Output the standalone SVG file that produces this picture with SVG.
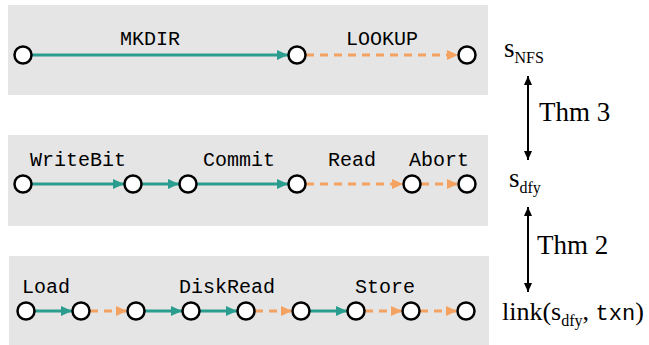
<svg xmlns="http://www.w3.org/2000/svg" width="649" height="345" viewBox="0 0 649 345">
<style>
.panel{fill:#e5e5e5}
.node{fill:#fff;stroke:#000;stroke-width:2.5}
.t{stroke:#2a9d8f;stroke-width:3;fill:none}
.o{stroke:#f4a261;stroke-width:3;fill:none;stroke-dasharray:8 6}
.lbl{font-family:"Liberation Mono","DejaVu Sans Mono",monospace;font-size:20px;fill:#000;text-anchor:middle}
.ser{font-family:"Liberation Serif","Times New Roman",serif;fill:#000}
.mono{font-family:"Liberation Mono","DejaVu Sans Mono",monospace}
.bk{stroke:#000;stroke-width:2;fill:none}
</style>
<defs>
<marker id="at" markerUnits="userSpaceOnUse" markerWidth="12" markerHeight="10" refX="11" refY="5" orient="auto"><path d="M0,0 L11,5 L0,10 Z" fill="#2a9d8f"/></marker>
<marker id="ao" markerUnits="userSpaceOnUse" markerWidth="12" markerHeight="10" refX="11" refY="5" orient="auto"><path d="M0,0 L11,5 L0,10 Z" fill="#f4a261"/></marker>
<marker id="ab" markerUnits="userSpaceOnUse" markerWidth="10" markerHeight="12" refX="9" refY="4" orient="auto-start-reverse"><path d="M0,0 L9,4 L0,8 Z" fill="#000"/></marker>
</defs>

<g id="panel-nfs">
<rect class="panel" x="8" y="5" width="480" height="90"/>
<text class="lbl" x="150" y="45">MKDIR</text>
<text class="lbl" x="382" y="45">LOOKUP</text>
</g>
<g id="panel-dfy">
<rect class="panel" x="8" y="135" width="480" height="91"/>
<text class="lbl" x="78" y="166">WriteBit</text>
<text class="lbl" x="239" y="166">Commit</text>
<text class="lbl" x="352" y="166">Read</text>
<text class="lbl" x="439" y="166">Abort</text>
</g>
<g id="panel-link">
<rect class="panel" x="9" y="256" width="480" height="89"/>
<text class="lbl" x="46" y="293">Load</text>
<text class="lbl" x="227" y="293">DiskRead</text>
<text class="lbl" x="385" y="293">Store</text>
</g>

<g id="connectors">
<line class="t" x1="32" y1="55" x2="288" y2="55" marker-end="url(#at)"/>
<line class="o" x1="306" y1="55" x2="458" y2="55" marker-end="url(#ao)"/>

<line class="t" x1="32" y1="184" x2="124" y2="184" marker-end="url(#at)"/>
<line class="t" x1="142" y1="184" x2="179" y2="184" marker-end="url(#at)"/>
<line class="t" x1="197" y1="184" x2="288" y2="184" marker-end="url(#at)"/>
<line class="o" x1="306" y1="184" x2="403" y2="184" marker-end="url(#ao)"/>
<line class="o" x1="421" y1="184" x2="458" y2="184" marker-end="url(#ao)"/>

<line class="t" x1="35" y1="311" x2="72" y2="311" marker-end="url(#at)"/>
<line class="o" x1="90" y1="311" x2="127" y2="311" marker-end="url(#ao)"/>
<line class="t" x1="145" y1="311" x2="182" y2="311" marker-end="url(#at)"/>
<line class="t" x1="200" y1="311" x2="237" y2="311" marker-end="url(#at)"/>
<line class="o" x1="255" y1="311" x2="292" y2="311" marker-end="url(#ao)"/>
<line class="t" x1="310" y1="311" x2="347" y2="311" marker-end="url(#at)"/>
<line class="o" x1="365" y1="311" x2="402" y2="311" marker-end="url(#ao)"/>
<line class="o" x1="420" y1="311" x2="457" y2="311" marker-end="url(#ao)"/>

<line class="bk" x1="528" y1="76" x2="528" y2="160" marker-start="url(#ab)" marker-end="url(#ab)"/>
<line class="bk" x1="528" y1="207" x2="528" y2="292" marker-start="url(#ab)" marker-end="url(#ab)"/>
</g>

<g id="n1a"><circle class="node" cx="23" cy="55" r="8.5"/></g>
<g id="n1b"><circle class="node" cx="297" cy="55" r="8.5"/></g>
<g id="n1c"><circle class="node" cx="467" cy="55" r="8.5"/></g>

<g id="n2a"><circle class="node" cx="23" cy="184" r="8.5"/></g>
<g id="n2b"><circle class="node" cx="133" cy="184" r="8.5"/></g>
<g id="n2c"><circle class="node" cx="188" cy="184" r="8.5"/></g>
<g id="n2d"><circle class="node" cx="297" cy="184" r="8.5"/></g>
<g id="n2e"><circle class="node" cx="412" cy="184" r="8.5"/></g>
<g id="n2f"><circle class="node" cx="467" cy="184" r="8.5"/></g>

<g id="n3a"><circle class="node" cx="26" cy="311" r="8.5"/></g>
<g id="n3b"><circle class="node" cx="81" cy="311" r="8.5"/></g>
<g id="n3c"><circle class="node" cx="136" cy="311" r="8.5"/></g>
<g id="n3d"><circle class="node" cx="191" cy="311" r="8.5"/></g>
<g id="n3e"><circle class="node" cx="246" cy="311" r="8.5"/></g>
<g id="n3f"><circle class="node" cx="301" cy="311" r="8.5"/></g>
<g id="n3g"><circle class="node" cx="356" cy="311" r="8.5"/></g>
<g id="n3h"><circle class="node" cx="411" cy="311" r="8.5"/></g>
<g id="n3i"><circle class="node" cx="466" cy="311" r="8.5"/></g>

<g id="s-nfs"><text class="ser" x="504" y="57" font-size="27">s<tspan font-size="16" dy="6">NFS</tspan></text></g>
<g id="thm3"><text class="ser" x="539" y="121" font-size="27">Thm 3</text></g>
<g id="s-dfy"><text class="ser" x="509" y="187" font-size="27">s<tspan font-size="16" dy="6">dfy</tspan></text></g>
<g id="thm2"><text class="ser" x="537" y="254" font-size="27">Thm 2</text></g>
<g id="link"><text class="ser" x="502" y="320" font-size="26">link(s<tspan font-size="16" dy="6">dfy</tspan><tspan dy="-6">, </tspan><tspan class="mono" font-size="22">txn</tspan>)</text></g>
</svg>
